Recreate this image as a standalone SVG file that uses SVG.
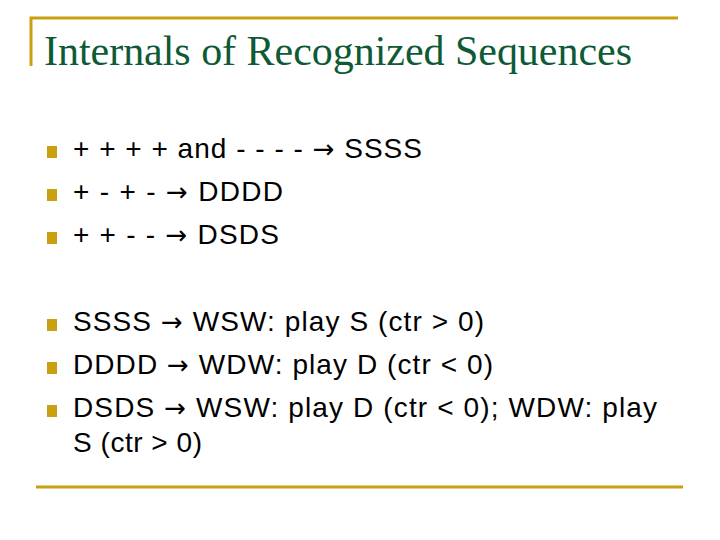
<svg xmlns="http://www.w3.org/2000/svg" width="720" height="540" viewBox="0 0 720 540">
<style>
.t{font-family:"Liberation Sans",Arial,sans-serif;font-size:28px;fill:#000}
.a{font-family:"DejaVu Sans",sans-serif;font-size:26px}
.b{fill:#C9A00F}
.g{stroke:#C9A00F;stroke-width:3;fill:none}
</style>
<rect width="720" height="540" fill="#fff"/>
<path class="g" d="M31 66V18H678"/>
<path class="g" d="M36 487H683"/>
<text x="44" y="65" textLength="588" style="font-family:'Liberation Serif',serif;font-size:42px;fill:#0E5A35">Internals of Recognized Sequences</text>
<g id="bullets">
<rect class="b" x="47" y="146" width="10" height="12"/>
<rect class="b" x="47" y="189" width="10" height="12"/>
<rect class="b" x="47" y="232" width="10" height="12"/>
<rect class="b" x="47" y="319" width="10" height="12"/>
<rect class="b" x="47" y="362" width="10" height="12"/>
<rect class="b" x="47" y="405" width="10" height="12"/>
</g>
<text class="t" x="73" y="158" textLength="349">+ + + + and - - - - <tspan class="a">→</tspan> SSSS</text>
<text class="t" x="73" y="201" textLength="210">+ - + - <tspan class="a">→</tspan> DDDD</text>
<text class="t" x="73" y="244" textLength="206">+ + - - <tspan class="a">→</tspan> DSDS</text>
<text class="t" x="73" y="331" textLength="411">SSSS <tspan class="a">→</tspan> WSW: play S (ctr &gt; 0)</text>
<text class="t" x="73" y="374" textLength="420">DDDD <tspan class="a">→</tspan>  WDW: play D (ctr &lt; 0)</text>
<text class="t" x="73" y="417" textLength="584">DSDS <tspan class="a">→</tspan>  WSW: play D (ctr &lt; 0); WDW: play</text>
<text class="t" x="73" y="452" textLength="129">S (ctr &gt; 0)</text>
</svg>
